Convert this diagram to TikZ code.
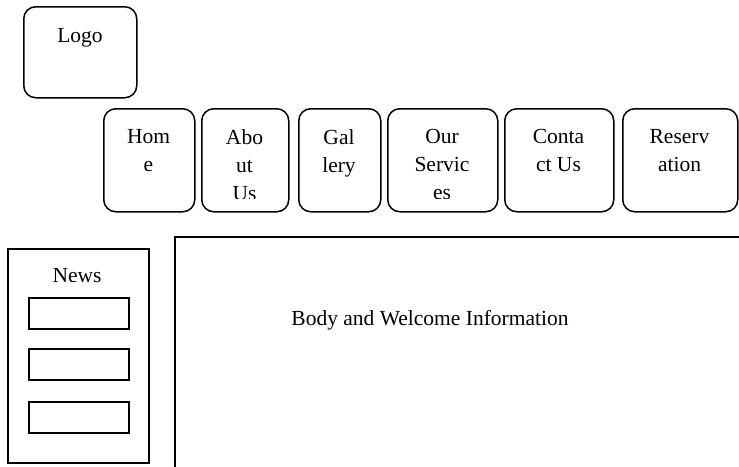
\documentclass[tikz,border=0pt]{standalone}
\usepackage{fontspec}
\setmainfont{Liberation Serif}
\usetikzlibrary{positioning}

\tikzset{
  wire/.style={draw, line width=1.5pt},
  roundbox/.style={wire, rounded corners=12pt, anchor=north west, inner sep=0pt},
  plainbox/.style={wire, anchor=north west, inner sep=0pt},
  txt/.style={font=\fontsize{21.5}{28}\selectfont, align=center, anchor=north, inner sep=0pt}
}

\begin{document}
\begin{tikzpicture}[x=1pt, y=-1pt]
    \clip (0,0) rectangle (739,466);

    % logo
    \node[roundbox, minimum width=113pt, minimum height=91pt] (logo) at (23,6) {};
    \node[txt] (logotxt) at (80,28) {Logo};

    % menu buttons
    \foreach \nm/\xa/\xb/\txt in {home/103/194/{Hom\\e}, about/201/288/{Abo\\ut\\Us},
        gallery/298/380/{Gal\\lery}, services/387/497/{Our\\Servic\\es},
        contact/504/613/{Conta\\ct Us}, reserve/622/737/{Reserv\\ation}}{
        \node[roundbox, minimum width={(\xb-\xa)*1pt}, minimum height=103pt] (\nm) at (\xa,108) {};
        \begin{scope}
            \clip (\xa,108) rectangle (\xb,198);
            \node[txt] (\nm txt) at ({(\xa+\xb)/2},129) {\txt};
        \end{scope}
    }

    % news column
    \node[plainbox, minimum width=141pt, minimum height=214pt] (news) at (7,248) {};
    \node[txt] (newstxt) at (77,268) {News};
    \foreach \i/\ya in {1/297, 2/348, 3/401}
        \node[plainbox, minimum width=100pt, minimum height=31pt] (item\i) at (28,\ya) {};

    % body
    \node[plainbox, minimum width=600pt, minimum height=300pt] (body) at (174,236) {};
    \node[txt] (bodytxt) at (430,310) {Body and Welcome Information};
\end{tikzpicture}
\end{document}
